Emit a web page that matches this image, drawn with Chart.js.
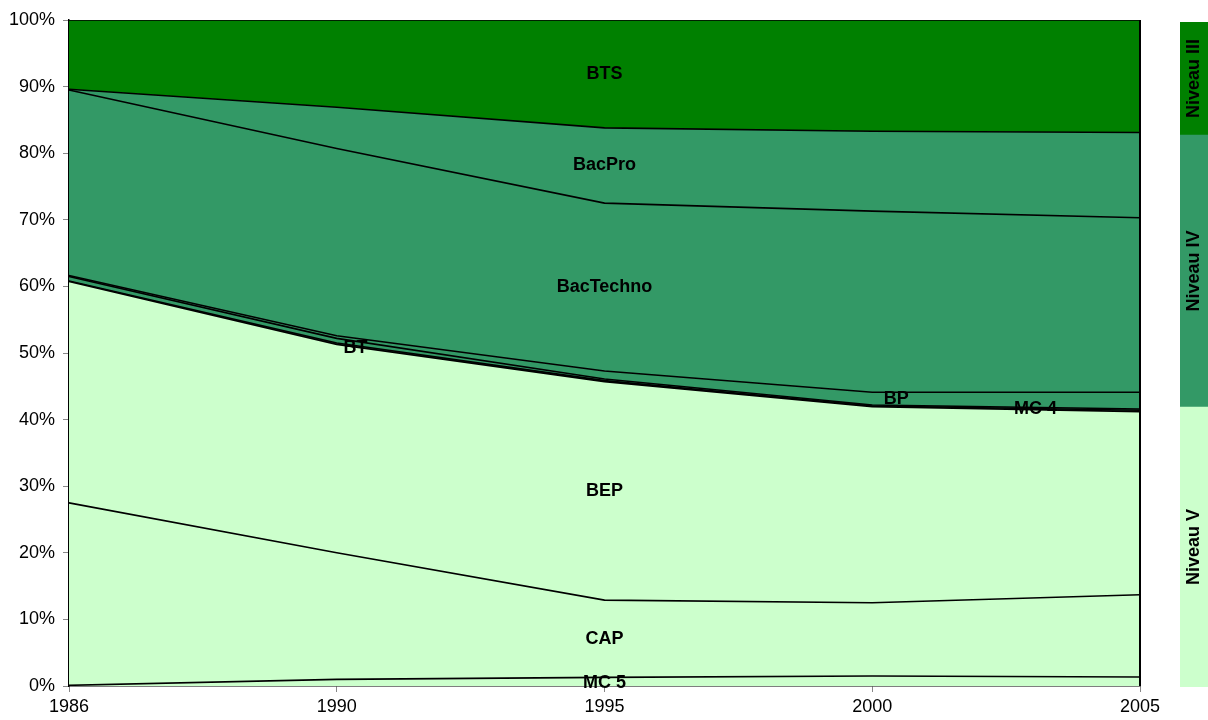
<!DOCTYPE html>
<html>
<head>
<meta charset="utf-8">
<script src="https://cdn.jsdelivr.net/npm/chart.js@4"></script>
<style>
  body { margin: 0; background: #fff; }
  #main { position: absolute; left: 0; top: 0; }
  #side { position: absolute; left: 1180px; top: 22px; }
</style>
</head>
<body>
<canvas id="main" width="1208" height="720"></canvas>
<canvas id="side" width="28" height="665"></canvas>
<script>
// years on the x axis
const years = ['1986', '1990', '1995', '2000', '2005'];

// share of each diploma (%), stacked from the bottom up
const mc5       = [0.1, 1.0, 1.3, 1.5, 1.35];
const cap       = [27.4, 19.0, 11.6, 11.0, 12.35];
const bep       = [33.25, 31.3, 32.8, 29.45, 27.5];
const mc4       = [0.05, 0.2, 0.15, 0.1, 0.2];
const bt        = [0.7, 0.7, 0.25, 0.15, 0.2];
const bp        = [0.15, 0.4, 1.2, 1.9, 2.5];
const bacTechno = [27.85, 28.1, 25.2, 27.2, 26.2];
const bacPro    = [0.1, 6.2, 11.3, 12.0, 12.8];
const bts       = [10.4, 13.1, 16.2, 16.7, 16.9];

// side bar: level shares in 2005
const levelNames  = ['Niveau V', 'Niveau IV', 'Niveau III'];
const levelValues = [42.1, 40.9, 17.0];

const LIGHT = '#CCFFCC', MID = '#339966', DARK = '#008000';
const FONT = '"Liberation Sans", Arial, sans-serif';

const series = [
  { label: 'MC 5', data: mc5, color: LIGHT, at: 2, dy: 1 },
  { label: 'CAP', data: cap, color: LIGHT, at: 2, dy: 0 },
  { label: 'BEP', data: bep, color: LIGHT, at: 2, dy: 0 },
  { label: 'MC 4', data: mc4, color: MID, at: 3.61, dy: 0 },
  { label: 'BT', data: bt, color: MID, at: 1.07, dy: 5 },
  { label: 'BP', data: bp, color: MID, at: 3.09, dy: 0 },
  { label: 'BacTechno', data: bacTechno, color: MID, at: 2, dy: 0 },
  { label: 'BacPro', data: bacPro, color: MID, at: 2, dy: 0 },
  { label: 'BTS', data: bts, color: DARK, at: 2, dy: 0 }
];

// writes the series name in the middle of its band
const areaLabels = {
  id: 'areaLabels',
  afterDatasetsDraw(chart) {
    const ctx = chart.ctx;
    const xs = chart.scales.x, ys = chart.scales.y;
    ctx.save();
    ctx.font = 'bold 18px ' + FONT;
    ctx.fillStyle = '#000';
    ctx.textAlign = 'center';
    ctx.textBaseline = 'middle';
    series.forEach((s, i) => {
      const i0 = Math.floor(s.at), i1 = Math.min(i0 + 1, years.length - 1);
      const t = s.at - i0;
      let low = 0;
      for (let k = 0; k < i; k++) {
        low += series[k].data[i0] * (1 - t) + series[k].data[i1] * t;
      }
      const v = s.data[i0] * (1 - t) + s.data[i1] * t;
      const x = xs.getPixelForValue(i0) * (1 - t) + xs.getPixelForValue(i1) * t;
      const y = ys.getPixelForValue(low + v / 2) + s.dy;
      ctx.fillText(s.label, x, y);
    });
    ctx.restore();
  }
};

// black frame line on the right edge of the plot
const frame = {
  id: 'frame',
  afterDatasetsDraw(chart) {
    const a = chart.chartArea, ctx = chart.ctx;
    ctx.save();
    ctx.strokeStyle = '#000';
    ctx.lineWidth = 2;
    ctx.beginPath();
    ctx.moveTo(a.right, a.top);
    ctx.lineTo(a.right, a.bottom);
    ctx.stroke();
    ctx.restore();
  }
};

new Chart(document.getElementById('main'), {
  type: 'line',
  data: {
    labels: years,
    datasets: series.map((s, i) => ({
      label: s.label,
      data: s.data,
      backgroundColor: s.color,
      borderColor: '#000',
      borderWidth: 1.6,
      pointRadius: 0,
      tension: 0,
      fill: i === 0 ? 'origin' : '-1'
    }))
  },
  options: {
    responsive: false,
    animation: false,
    layout: { padding: { top: 20, right: 68, bottom: 0, left: 0 } },
    plugins: { legend: { display: false }, tooltip: { enabled: false } },
    scales: {
      x: {
        offset: false,
        grid: { drawOnChartArea: false, tickLength: 6, color: '#888' },
        border: { color: '#000', width: 1.5 },
        ticks: { color: '#000', font: { family: FONT, size: 18 }, padding: 4, maxRotation: 0 },
        afterFit(scale) { scale.height = 34; }
      },
      y: {
        stacked: true,
        min: 0,
        max: 100,
        grid: { drawOnChartArea: false, tickLength: 6, color: '#888' },
        border: { color: '#000', width: 1.5 },
        ticks: {
          stepSize: 10,
          color: '#000',
          font: { family: FONT, size: 18 },
          padding: 8,
          callback: v => v + '%'
        },
        afterFit(scale) { scale.width = 69; }
      }
    }
  },
  plugins: [areaLabels, frame]
});

// rotated level names inside the side bar
const levelLabels = {
  id: 'levelLabels',
  afterDatasetsDraw(chart) {
    const ctx = chart.ctx;
    ctx.save();
    ctx.font = 'bold 18px ' + FONT;
    ctx.fillStyle = '#000';
    ctx.textAlign = 'center';
    ctx.textBaseline = 'middle';
    chart.data.datasets.forEach((ds, i) => {
      const bar = chart.getDatasetMeta(i).data[0];
      const cy = (bar.y + bar.base) / 2;
      ctx.save();
      ctx.translate(bar.x, cy);
      ctx.rotate(-Math.PI / 2);
      ctx.fillText(ds.label, 0, 0);
      ctx.restore();
    });
    ctx.restore();
  }
};

new Chart(document.getElementById('side'), {
  type: 'bar',
  data: {
    labels: ['2005'],
    datasets: levelNames.map((name, i) => ({
      label: name,
      data: [levelValues[i]],
      backgroundColor: [LIGHT, MID, DARK][i],
      borderWidth: 0,
      barPercentage: 1,
      categoryPercentage: 1
    }))
  },
  options: {
    responsive: false,
    animation: false,
    layout: { padding: 0 },
    plugins: { legend: { display: false }, tooltip: { enabled: false } },
    scales: {
      x: { display: false, stacked: true },
      y: { display: false, stacked: true, min: 0, max: 100 }
    }
  },
  plugins: [levelLabels]
});
</script>
</body>
</html>
